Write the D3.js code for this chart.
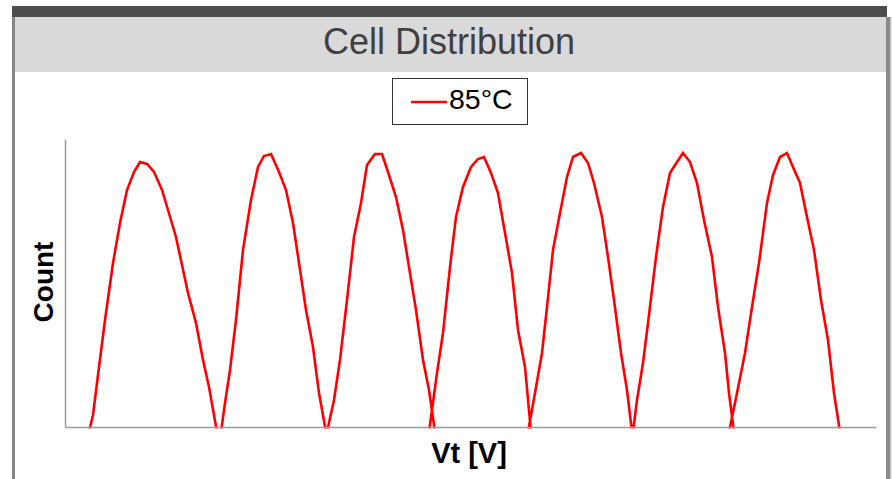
<!DOCTYPE html>
<html>
<head>
<meta charset="utf-8">
<script src="https://cdn.jsdelivr.net/npm/d3@7/dist/d3.min.js"></script>
<style>
  html, body { margin: 0; padding: 0; background: #ffffff; }
  svg { display: block; }
</style>
</head>
<body>
<svg id="chart" width="892" height="479"></svg>
<script>
// Chart texts
const chartTitle = "Cell Distribution";
const xLabel = "Vt [V]";
const yLabel = "Count";
const seriesName = "85°C";

// Axis ranges (no tick labels are drawn)
const xDomain = [0, 8.11];
const yDomain = [0, 2880];

// Threshold voltage samples for the 85°C distribution (7 states, one continuous trace)
const vt = [
  0.24, 0.28, 0.33, 0.40, 0.48, 0.55, 0.62, 0.69, 0.75, 0.82, 0.89, 0.97, 1.03, 1.11, 1.17, 1.23, 1.31, 1.38, 1.44, 1.52,
  1.56, 1.60, 1.65, 1.71, 1.78, 1.86, 1.93, 1.99, 2.06, 2.14, 2.21, 2.28, 2.34, 2.41, 2.48, 2.54, 2.61,
  2.62, 2.69, 2.75, 2.82, 2.89, 2.96, 3.02, 3.10, 3.17, 3.23, 3.31, 3.38, 3.44, 3.51, 3.58, 3.64, 3.70,
  3.64, 3.72, 3.78, 3.85, 3.91, 3.98, 4.06, 4.13, 4.19, 4.26, 4.33, 4.40, 4.47, 4.53, 4.60, 4.66,
  4.63, 4.70, 4.77, 4.82, 4.88, 4.95, 5.02, 5.08, 5.16, 5.23, 5.29, 5.37, 5.43, 5.49, 5.56, 5.62, 5.67,
  5.68, 5.72, 5.78, 5.84, 5.91, 5.98, 6.05, 6.12, 6.18, 6.25, 6.32, 6.39, 6.47, 6.53, 6.60, 6.64, 6.69,
  6.64, 6.72, 6.80, 6.87, 6.94, 7.02, 7.08, 7.15, 7.22, 7.28, 7.35, 7.42, 7.49, 7.56, 7.63, 7.69, 7.75
];
const count = [
  -50, 120, 520, 1070, 1640, 2040, 2370, 2550, 2650, 2630, 2550, 2370, 2170, 1900, 1620, 1340, 1040, 670, 400, -50,
  -50, 240, 570, 1070, 1770, 2270, 2600, 2710, 2730, 2550, 2370, 2040, 1640, 1170, 800, 340, -50,
  -50, 270, 670, 1270, 1900, 2240, 2620, 2730, 2730, 2550, 2300, 1970, 1600, 1170, 670, 370, -50,
  -50, 540, 940, 1600, 2100, 2400, 2600, 2680, 2700, 2540, 2340, 1940, 1540, 970, 600, -50,
  -50, 340, 740, 1200, 1770, 2140, 2500, 2700, 2740, 2640, 2440, 2100, 1700, 1270, 740, 370, -50,
  -50, 270, 640, 1120, 1700, 2200, 2540, 2650, 2740, 2650, 2440, 2070, 1700, 1200, 740, 340, -50,
  -50, 340, 740, 1200, 1640, 2240, 2520, 2700, 2740, 2600, 2440, 2100, 1770, 1270, 870, 340, -50
];

const svg = d3.select("#chart");

// Frame: dark top strip, grey title band, side borders
svg.append("rect").attr("x", 12).attr("y", 6).attr("width", 875).attr("height", 11).attr("fill", "#4d4d4d");
svg.append("rect").attr("x", 15).attr("y", 17).attr("width", 871).attr("height", 55).attr("fill", "#d9d9d9");
svg.append("rect").attr("x", 12).attr("y", 17).attr("width", 3).attr("height", 462).attr("fill", "#858585");
svg.append("rect").attr("x", 886).attr("y", 17).attr("width", 4).attr("height", 462).attr("fill", "#8a8a8a");
svg.append("rect").attr("x", 890).attr("y", 17).attr("width", 1.5).attr("height", 462).attr("fill", "#c4c4c4");

svg.append("text")
  .attr("x", 449).attr("y", 54)
  .attr("text-anchor", "middle")
  .attr("font-family", "'Liberation Sans', Arial, sans-serif")
  .attr("font-size", 36)
  .attr("fill", "#404040")
  .text(chartTitle);

// Plot area
const plot = { left: 65, right: 876, top: 139, bottom: 427 };
const x = d3.scaleLinear().domain(xDomain).range([plot.left, plot.right]);
const y = d3.scaleLinear().domain(yDomain).range([plot.bottom, plot.top]);

svg.append("defs").append("clipPath").attr("id", "plot-clip")
  .append("rect")
  .attr("x", plot.left).attr("y", plot.top)
  .attr("width", plot.right - plot.left)
  .attr("height", plot.bottom - plot.top + 1.5);

const points = vt.map((v, i) => [v, count[i]]);
const line = d3.line().x(d => x(d[0])).y(d => y(d[1]));

svg.append("path")
  .datum(points)
  .attr("clip-path", "url(#plot-clip)")
  .attr("fill", "none")
  .attr("stroke", "#ff0000")
  .attr("stroke-width", 2.6)
  .attr("stroke-linejoin", "miter")
  .attr("d", line);

// Axes (lines only)
const axisColor = "#9a9a9a";
const gx = svg.append("g").attr("transform", `translate(0,${plot.bottom})`)
  .call(d3.axisBottom(x).tickValues([]).tickSizeOuter(0));
const gy = svg.append("g").attr("transform", `translate(${plot.left},0)`)
  .call(d3.axisLeft(y).tickValues([]).tickSizeOuter(0));
[gx, gy].forEach(g => g.select(".domain").attr("stroke", axisColor).attr("stroke-width", 1.5));

// Axis titles
svg.append("text")
  .attr("x", 469).attr("y", 463)
  .attr("text-anchor", "middle")
  .attr("font-family", "'Liberation Sans', Arial, sans-serif")
  .attr("font-weight", "bold")
  .attr("font-size", 29)
  .attr("fill", "#000000")
  .text(xLabel);

svg.append("text")
  .attr("transform", "translate(53,282) rotate(-90)")
  .attr("text-anchor", "middle")
  .attr("font-family", "'Liberation Sans', Arial, sans-serif")
  .attr("font-weight", "bold")
  .attr("font-size", 28)
  .attr("fill", "#000000")
  .text(yLabel);

// Legend
const legend = svg.append("g");
legend.append("rect")
  .attr("x", 392.5).attr("y", 78.5).attr("width", 135).attr("height", 46)
  .attr("fill", "#ffffff").attr("stroke", "#333333").attr("stroke-width", 1);
legend.append("line")
  .attr("x1", 411).attr("x2", 447).attr("y1", 102).attr("y2", 102)
  .attr("stroke", "#ff0000").attr("stroke-width", 2.6);
legend.append("text")
  .attr("x", 449).attr("y", 109)
  .attr("font-family", "'Liberation Sans', Arial, sans-serif")
  .attr("font-size", 28.5)
  .attr("fill", "#000000")
  .text(seriesName);
</script>
</body>
</html>
